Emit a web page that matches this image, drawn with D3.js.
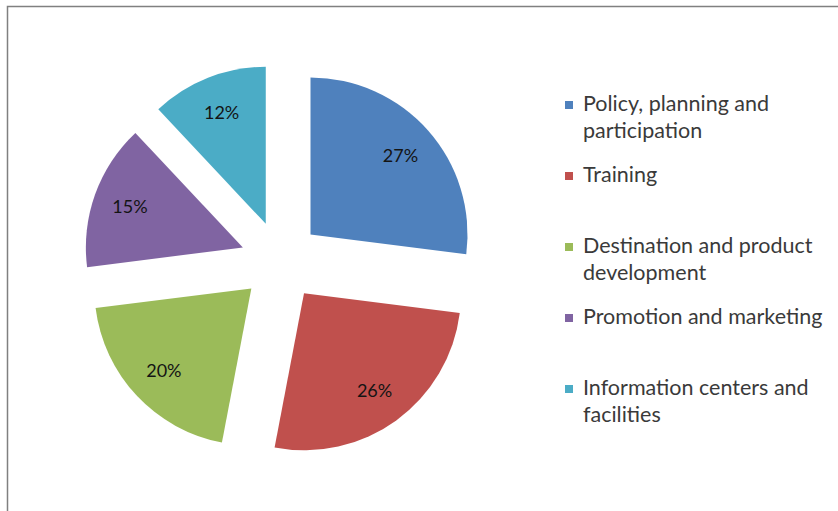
<!DOCTYPE html>
<html>
<head>
<meta charset="utf-8">
<script src="https://cdn.jsdelivr.net/npm/d3@7"></script>
<style>
  body { margin: 0; background: #fff; }
  svg { display: block; }
</style>
</head>
<body>
<div id="chart"></div>
<script>
// data
const categories = [
  'Policy, planning and participation',
  'Training',
  'Destination and product development',
  'Promotion and marketing',
  'Information centers and facilities'
];
const shares = [27, 26, 20, 15, 12];
const colors = ['#4F81BD', '#C0504D', '#9BBB59', '#8064A2', '#4BACC6'];

const width = 838;
const height = 511;
const center = { x: 280.5, y: 261 };
const radius = 157;
const explode = 40;

const svg = d3.select('#chart')
  .append('svg')
  .attr('width', width)
  .attr('height', height);

// chart area border (only top and left edges show)
svg.append('rect')
  .attr('x', 7.5)
  .attr('y', 6.5)
  .attr('width', width + 10)
  .attr('height', height + 10)
  .attr('fill', 'none')
  .attr('stroke', '#808080')
  .attr('stroke-width', 1.5);

const data = categories.map((c, i) => ({ name: c, value: shares[i], color: colors[i] }));

const pie = d3.pie()
  .sort(null)
  .value(d => d.value);

const arc = d3.arc()
  .innerRadius(0)
  .outerRadius(radius);

const labelArc = d3.arc()
  .innerRadius(120)
  .outerRadius(120);

const slices = svg.append('g')
  .attr('transform', `translate(${center.x},${center.y})`)
  .selectAll('g')
  .data(pie(data))
  .join('g')
    .attr('transform', d => {
      const a = (d.startAngle + d.endAngle) / 2;
      return `translate(${Math.sin(a) * explode},${-Math.cos(a) * explode})`;
    });

slices.append('path')
  .attr('d', arc)
  .attr('fill', d => d.data.color);

slices.append('text')
  .attr('transform', d => `translate(${labelArc.centroid(d)})`)
  .attr('text-anchor', 'middle')
  .attr('dy', '0.35em')
  .attr('font-family', 'Lato, sans-serif')
  .attr('font-size', '18px')
  .attr('fill', '#141414')
  .text(d => d.data.value + '%');

// legend
const legend = svg.append('g')
  .attr('font-family', 'Lato, sans-serif')
  .attr('font-size', '21.5px')
  .attr('fill', '#3a3a3a');

const legendX = 583;
const legendTop = 111;
const itemStep = 71;
const lineStep = 27;
const maxWidth = 250;

data.forEach((d, i) => {
  const base = legendTop + i * itemStep;
  legend.append('rect')
    .attr('x', 565)
    .attr('y', base - 10)
    .attr('width', 8)
    .attr('height', 8)
    .attr('fill', d.color);

  const text = legend.append('text')
    .attr('x', legendX)
    .attr('y', base);

  // wrap words to the legend width
  const words = d.name.split(' ');
  let line = [];
  let lineNo = 0;
  let tspan = text.append('tspan').attr('x', legendX).attr('y', base);
  words.forEach(w => {
    line.push(w);
    tspan.text(line.join(' '));
    if (tspan.node().getComputedTextLength() > maxWidth && line.length > 1) {
      line.pop();
      tspan.text(line.join(' '));
      line = [w];
      lineNo++;
      tspan = text.append('tspan')
        .attr('x', legendX)
        .attr('y', base + lineNo * lineStep)
        .text(w);
    }
  });
});
</script>
</body>
</html>
